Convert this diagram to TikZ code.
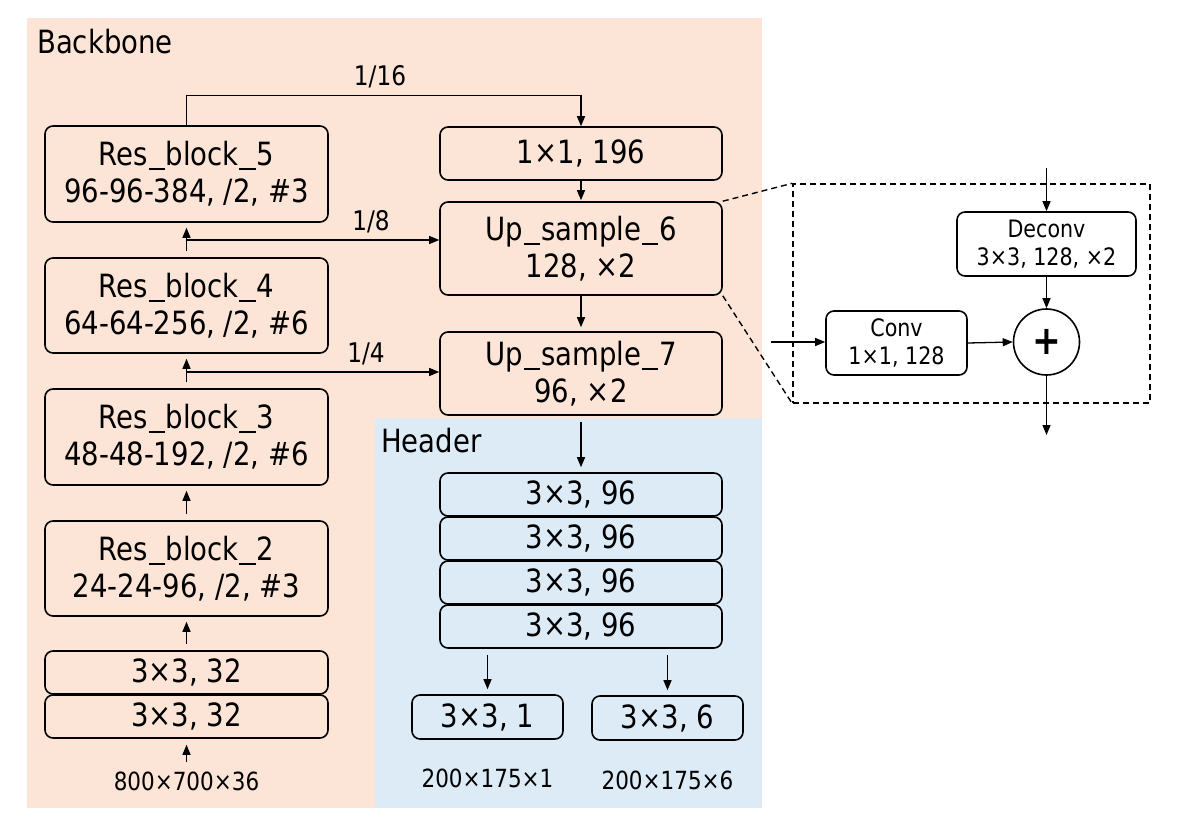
\documentclass[tikz,border=0pt]{standalone}
\usepackage{fontspec}
\setmainfont{DejaVu Sans}[FakeStretch=0.86]
\usepackage{xcolor}
\usetikzlibrary{arrows.meta}
\definecolor{bbpeach}{RGB}{252,228,214}
\definecolor{hdblue}{RGB}{221,235,247}
\newcommand{\us}{\kern0.02em\rule[-0.14em]{0.52em}{0.07em}\kern0.02em}
\tikzset{
	blk/.style={draw,line width=1.6pt,rounded corners=8pt,minimum width=283pt,align=center,inner sep=0pt,font=\fontsize{32}{37}\selectfont},
	subblk/.style={blk,minimum height=64pt,font=\fontsize{24}{28}\selectfont},
	arr/.style={line width=1.3pt,-{Triangle[length=10pt,width=8pt]}},
	gap/.style={shorten <=6pt,shorten >=5pt},
	lbl/.style={inner sep=0pt,font=\fontsize{27}{31}\selectfont},
	txt/.style={inner sep=0pt,font=\fontsize{25}{30}\selectfont},
	title/.style={anchor=west,inner sep=0pt,font=\fontsize{32}{37}\selectfont}
}
\begin{document}
\begin{tikzpicture}[x=1pt,y=-1pt]
	\useasboundingbox (0,0) rectangle (1188,834);
	\fill[bbpeach] (27,18) rectangle (762,808); % backbone
	\fill[hdblue] (375,418) rectangle (762,808); % header
	\node[title] (bbtitle) at (37,42) {Backbone};
	\node[title] (hdtitle) at (381,441) {Header};
	% backbone
	\node[blk,minimum height=96pt] (rb5) at (186.5,174) {Res\us block\us 5\\96-96-384, /2, \#3};
	\node[blk,minimum height=95pt] (rb4) at (186.5,305.5) {Res\us block\us 4\\64-64-256, /2, \#6};
	\node[blk,minimum height=96pt] (rb3) at (186.5,437) {Res\us block\us 3\\48-48-192, /2, \#6};
	\node[blk,minimum height=95pt] (rb2) at (186.5,568.5) {Res\us block\us 2\\24-24-96, /2, \#3};
	\node[blk,minimum height=43pt] (c32a) at (186.5,672.5) {3×3, 32};
	\node[blk,minimum height=43pt] (c32b) at (186.5,716.5) {3×3, 32};
	\node[txt] (inp) at (186.5,781) {800×700×36};
	% upsampling
	\node[blk,minimum width=282pt,minimum height=53pt] (c196) at (581,153.5) {1×1, 196};
	\node[blk,minimum width=282pt,minimum height=93pt] (up6) at (581,248.5) {Up\us sample\us 6\\128, ×2};
	\node[blk,minimum width=282pt,minimum height=83pt] (up7) at (581,373.5) {Up\us sample\us 7\\96, ×2};
	% header
	\node[blk,minimum width=282pt,minimum height=43pt] (h96a) at (581,494.5) {3×3, 96};
	\node[blk,minimum width=282pt,minimum height=43pt] (h96b) at (581,538.5) {3×3, 96};
	\node[blk,minimum width=282pt,minimum height=43pt] (h96c) at (581,582.5) {3×3, 96};
	\node[blk,minimum width=282pt,minimum height=43pt] (h96d) at (581,626.5) {3×3, 96};
	\node[blk,minimum width=151pt,minimum height=44pt] (out1) at (487.5,717) {3×3, 1};
	\node[blk,minimum width=151pt,minimum height=44pt] (out6) at (667.5,718) {3×3, 6};
	\node[txt] (res1) at (487.5,778) {200×175×1};
	\node[txt] (res6) at (667.5,780) {200×175×6};
	% arrows
	\draw[arr,shorten <=9pt,shorten >=6pt] (inp.north) -- (c32b.south);
	\draw[arr,gap] (c32a.north) -- (rb2.south);
	\draw[arr,gap] (rb2.north) -- (rb3.south);
	\draw[arr,gap] (rb3.north) -- (rb4.south);
	\draw[arr,gap] (rb4.north) -- (rb5.south);
	\draw[arr] (rb5.north) -- ++(0,-30) -| (c196.north);
	\coordinate (s8) at (186.5,240);
	\coordinate (s4) at (186.5,372);
	\draw[arr] (s8) -- (s8 -| up6.west);
	\draw[arr] (s4) -- (s4 -| up7.west);
	\node[lbl] (l16) at (380,77) {1/16};
	\node[lbl] (l8) at (371,222) {1/8};
	\node[lbl] (l4) at (366,354) {1/4};
	\draw[arr,shorten >=1pt] (c196.south) -- (up6.north);
	\draw[arr,shorten >=4pt] (up6.south) -- (up7.north);
	\draw[arr,gap] (up7.south) -- (h96a.north);
	\draw[arr,gap] (out1 |- h96d.south) -- (out1.north);
	\draw[arr,gap] (out6 |- h96d.south) -- (out6.north);
	% zoom of up_sample
	\node[draw,dash pattern=on 6pt off 4pt,line width=1.4pt,minimum width=357pt,minimum height=219pt] (zoom) at (971.5,293.5) {};
	\draw[dash pattern=on 6pt off 4pt,line width=1.4pt] (up6.north east) -- (zoom.north west);
	\draw[dash pattern=on 6pt off 4pt,line width=1.4pt] (up6.south east) -- (zoom.south west);
	\node[subblk,minimum width=179pt] (deconv) at (1046.5,244) {Deconv\\3×3, 128, ×2};
	\node[subblk,minimum width=141pt] (conv) at (896.5,343) {Conv\\1×1, 128};
	\node[draw,circle,line width=1.6pt,minimum size=66pt,inner sep=0pt,font=\fontsize{40}{40}\selectfont\bfseries] (plus) at (1046.5,342) {+};
	\coordinate (din) at (1046.5,168);
	\coordinate (cin) at (771,342);
	\coordinate (pout) at (1046.5,435);
	\draw[arr] (din) -- (deconv.north);
	\draw[arr] (deconv.south) -- (plus.north);
	\draw[arr] (cin) -- (conv.west |- cin);
	\draw[arr] (conv.east) -- (plus.west);
	\draw[arr] (plus.south) -- (pout);
\end{tikzpicture}
\end{document}
